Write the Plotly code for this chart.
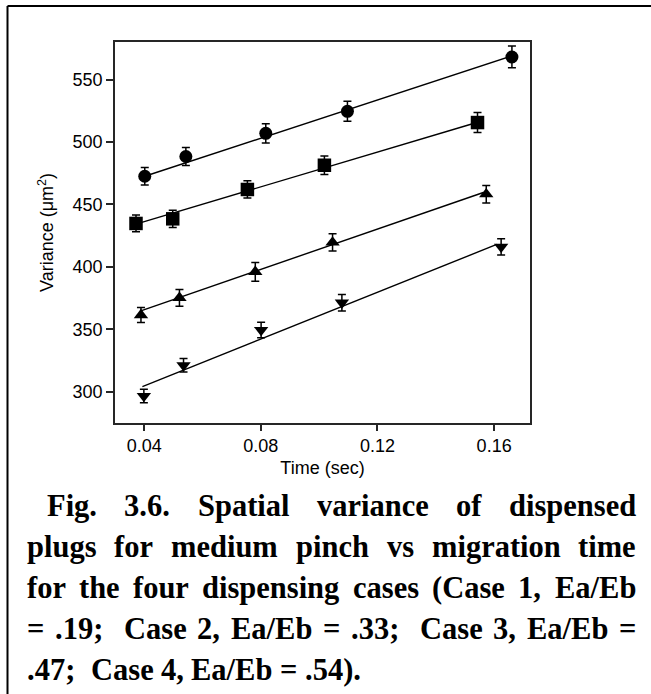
import re
import numpy as np
import plotly.graph_objects as go

# ---- data: migration time (s) vs spatial variance (µm²), four dispensing cases ----
case1_time = [0.0402, 0.0543, 0.0817, 0.1097, 0.1661]
case1_var = [472.6, 488.4, 507.0, 524.6, 568.1]
case1_err = [7.1, 7.2, 7.7, 8.0, 8.7]

case2_time = [0.0372, 0.0498, 0.0754, 0.1018, 0.1543]
case2_var = [434.8, 438.5, 462.0, 481.4, 515.6]
case2_err = [6.7, 6.9, 6.9, 7.5, 8.0]

case3_time = [0.0389, 0.0521, 0.0781, 0.1046, 0.1573]
case3_var = [361.4, 375.2, 396.1, 419.6, 458.2]
case3_err = [6.0, 6.7, 7.5, 6.9, 7.0]

case4_time = [0.0399, 0.0535, 0.0801, 0.1078, 0.1624]
case4_var = [296.6, 321.2, 349.4, 371.3, 416.1]
case4_err = [5.4, 5.4, 6.2, 6.6, 6.5]

# linear trend lines (end points)
case1_fit_time = [0.0402, 0.1661]
case1_fit_var = [472.6, 569.0]
case2_fit_time = [0.0386, 0.1529]
case2_fit_var = [435.3, 514.8]
case3_fit_time = [0.0386, 0.1563]
case3_fit_var = [364.6, 459.6]
case4_fit_time = [0.0394, 0.1609]
case4_fit_var = [304.1, 418.0]

x_ticks = [0.04, 0.08, 0.12, 0.16]
x_tick_labels = ["0.04", "0.08", "0.12", "0.16"]
y_ticks = [300, 350, 400, 450, 500, 550]
y_tick_labels = ["300", "350", "400", "450", "500", "550"]

caption_lines = [
    "Fig. 3.6. Spatial variance of dispensed",
    "plugs for medium pinch vs migration time",
    "for the four dispensing cases (Case 1, Ea/Eb",
    "= .19;  Case 2, Ea/Eb = .33;  Case 3, Ea/Eb =",
    ".47;  Case 4, Ea/Eb = .54).",
]

# ---- page geometry (pixels) ----
W, H = 651, 694
PL, PR, PT, PB = 115, 530, 42, 423          # plot area edges
INK = "#000000"
FRAME = "#262626"


def px_to_paper(x, y):
    return (x - PL) / (PR - PL), (PB - y) / (PB - PT)


fig = go.Figure()

series = [
    (case1_time, case1_var, case1_err, case1_fit_time, case1_fit_var, "circle", 13),
    (case2_time, case2_var, case2_err, case2_fit_time, case2_fit_var, "square", 13.5),
    (case3_time, case3_var, case3_err, case3_fit_time, case3_fit_var, "triangle-up", 12.5),
    (case4_time, case4_var, case4_err, case4_fit_time, case4_fit_var, "triangle-down", 12.5),
]

for t, v, e, ft, fv, sym, size in series:
    fig.add_trace(go.Scatter(
        x=ft, y=fv, mode="lines",
        line=dict(color=INK, width=1.4),
        showlegend=False, hoverinfo="skip",
    ))
    fig.add_trace(go.Scatter(
        x=t, y=v, mode="markers",
        marker=dict(symbol=sym, size=size, color=INK, line=dict(width=0)),
        error_y=dict(type="data", array=e, visible=True,
                     color=INK, thickness=1.5, width=4),
        showlegend=False,
    ))

SANS = "Liberation Sans, Arial, sans-serif"
tick_font = dict(family=SANS, size=18, color=INK)
title_font = dict(family=SANS, size=18, color=INK)

fig.update_xaxes(
    range=[0.0300, 0.1723],
    tickvals=x_ticks, ticktext=x_tick_labels,
    showline=True, mirror=True, linecolor=FRAME, linewidth=1.5,
    ticks="outside", ticklen=6, tickwidth=1.5, tickcolor=FRAME,
    showgrid=False, zeroline=False,
    tickfont=tick_font,
    title=dict(text="Time (sec)", font=title_font, standoff=6),
)
fig.update_yaxes(
    range=[275.0, 580.1],
    tickvals=y_ticks, ticktext=y_tick_labels,
    showline=True, mirror=True, linecolor=FRAME, linewidth=1.5,
    ticks="outside", ticklen=7, tickwidth=1.5, tickcolor=FRAME,
    showgrid=False, zeroline=False,
    tickfont=tick_font,
    title=dict(text="Variance (μm<sup>2</sup>)", font=title_font, standoff=14),
)

# ---- outer frame of the figure panel ----
bx, by = 7.5, 6.0
x0, y0 = px_to_paper(bx, H + 5)
x1, y1 = px_to_paper(bx, by)
x2, _ = px_to_paper(W + 5, by)
fig.add_shape(type="line", xref="paper", yref="paper", x0=x0, y0=y0, x1=x1, y1=y1,
              line=dict(color=INK, width=2))
fig.add_shape(type="line", xref="paper", yref="paper", x0=x1, y0=y1, x1=x2, y1=y1,
              line=dict(color=INK, width=2))

# ---- justified bold caption, word by word ----
# Times Bold advance widths (per 1000 em)
TB = {" ": 250, "(": 333, ")": 333, ",": 250, ".": 250, "/": 278, ";": 333, "=": 570,
      "0": 500, "1": 500, "2": 500, "3": 500, "4": 500, "5": 500, "6": 500, "7": 500,
      "8": 500, "9": 500, "C": 722, "E": 667, "F": 611, "S": 556,
      "a": 500, "b": 556, "c": 444, "d": 556, "e": 444, "f": 333, "g": 500, "h": 556,
      "i": 278, "l": 278, "m": 833, "n": 556, "o": 500, "p": 556, "r": 444, "s": 389,
      "t": 333, "u": 556, "v": 500}
CAP_SIZE = 30.5
cap_font = dict(family="Liberation Serif, Times New Roman, serif", size=CAP_SIZE, color=INK)


def word_w(w):
    return sum(TB.get(ch, 500) for ch in w) / 1000.0 * CAP_SIZE


line_left = [46, 26, 26, 26, 26]
line_right = 635
line_justify = [True, True, True, True, False]
baselines = [516.5 + 41.0 * k for k in range(len(caption_lines))]

for text, xl, just, base in zip(caption_lines, line_left, line_justify, baselines):
    words = [(m.group(), m.start(), m.end()) for m in re.finditer(r"\S+", text)]
    gaps = [words[i + 1][1] - words[i][2] for i in range(len(words) - 1)]
    widths = [word_w(w) for w, _, _ in words]
    if just:
        unit = (line_right - xl - sum(widths)) / sum(gaps)
    else:
        unit = TB[" "] / 1000.0 * CAP_SIZE
    xc = xl
    yc = base - 0.3375 * CAP_SIZE
    for i, (w, _, _) in enumerate(words):
        px, py = px_to_paper(xc, yc)
        fig.add_annotation(text="<b>%s</b>" % w, xref="paper", yref="paper",
                           x=px, y=py, xanchor="left", yanchor="middle",
                           showarrow=False, font=cap_font, borderpad=0)
        xc += widths[i] + (gaps[i] * unit if i < len(gaps) else 0)

fig.update_layout(
    width=W, height=H,
    margin=dict(l=PL, r=W - PR, t=PT, b=H - PB, pad=0),
    paper_bgcolor="white", plot_bgcolor="white",
    font=tick_font,
)

fig.write_html("out.html")
